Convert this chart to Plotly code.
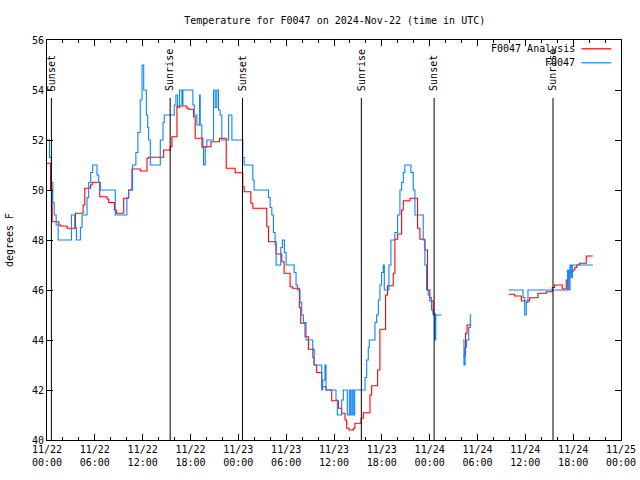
import pandas as pd
import plotly.graph_objects as go

BASE = pd.Timestamp("2024-11-22 00:00")

# Analysis (red) series: hours after 11/22 00:00 UTC and temperature (F); None = data gap
ana_hours = [0.0, 0.44, 0.65, 1.48, 1.69, 2.53, 3.57, 4.53, 4.74, 5.45, 5.66, 6.62, 7.53, 7.74,
             8.45, 8.7, 9.62, 10.25, 10.66, 11.71, 12.54, 12.75, 14.63, 15.46, 15.67, 16.3, 17.55,
             17.76, 18.38, 18.59, 19.55, 20.56, 21.64, 22.48, 23.6, 24.56, 24.73, 25.57, 25.82,
             27.57, 27.78, 28.74, 29.45, 29.74, 30.49, 30.78, 31.66, 31.83, 32.37, 32.79, 33.5,
             33.83, 34.46, 35.0, 35.71, 36.55, 36.96, 37.38, 37.59, 37.88, 38.43, 38.63, 39.39,
             39.68, 40.51, 40.72, 41.47, 41.76, 42.47, 42.72, 43.43, 43.64, 43.98, 44.48, 44.69,
             45.52, 46.48, 46.77, 47.4, 47.73, 48.02, 48.44, 48.65, 48.85, 50.8, 52.19, 52.5,
             52.69, 53.24, 55.5, 57.91, 58.66, 59.5, 60.54, 61.58, 62.63, 63.38, 63.67, 64.63,
             65.13, 65.47, 65.97, 66.2, 66.45, 66.8, 67.64, 68.47]
ana_temp = [51.07, 50.0, 48.73, 48.6, 48.56, 48.47, 49.07, 49.4, 50.07, 50.2, 50.31, 49.73, 49.64,
            49.5, 49.2, 49.07, 49.67, 50.0, 50.84, 50.76, 51.27, 51.31, 51.6, 51.73, 52.13, 53.36,
            53.27, 53.23, 52.93, 52.07, 51.73, 51.93, 52.07, 50.87, 50.69, 50.13, 49.93, 49.47,
            49.27, 48.53, 47.93, 47.44, 47.13, 46.67, 46.13, 46.07, 45.3, 44.67, 44.13, 43.63,
            43.0, 42.7, 42.13, 42.0, 41.57, 41.27, 41.07, 40.8, 40.47, 40.4, 40.47, 40.67, 40.87,
            41.09, 41.8, 42.17, 42.8, 44.43, 45.8, 46.17, 46.67, 48.03, 48.24, 49.2, 49.57, 49.67,
            48.47, 48.03, 47.6, 46.0, 45.56, 45.07, 45.0, 45.0, None, 43.4, 44.27, 44.6, 44.6,
            None, 45.83, 45.76, 45.56, 45.69, 45.87, 45.93, 46.1, 46.2, 46.04, 46.4, 46.73, 46.8,
            46.9, 47.0, 47.07, 47.36, 47.36]

# Observation (blue) series
obs_hours = [0.0, 0.31, 0.56, 0.73, 0.9, 1.15, 1.4, 3.06, 3.48, 3.69, 4.19, 4.4, 5.02, 5.23,
             5.48, 5.73, 6.27, 6.48, 6.69, 8.56, 10.02, 10.23, 10.73, 11.15, 11.4, 11.69, 11.92,
             12.13, 12.46, 12.63, 12.75, 12.96, 14.21, 14.55, 14.71, 15.96, 16.17, 16.38, 16.63,
             16.92, 17.05, 18.3, 18.47, 18.8, 19.14, 19.22, 19.42, 19.64, 19.85, 20.05, 20.89,
             21.1, 21.3, 21.51, 21.72, 21.93, 22.77, 23.19, 24.56, 24.73, 25.82, 25.98, 27.78,
             27.99, 28.2, 28.4, 28.61, 28.74, 29.32, 29.53, 29.78, 29.99, 31.0, 31.24, 31.41,
             31.74, 31.95, 32.16, 32.49, 33.33, 33.5, 34.46, 34.58, 34.87, 35.0, 36.25,
             36.42, 36.96, 37.17, 37.67, 37.92, 38.09, 38.26, 38.42, 38.59, 39.89, 40.1, 40.3,
             40.43, 41.14, 41.35, 41.56, 41.76, 41.97, 42.18, 42.31, 42.89, 43.14, 43.64, 43.98,
             44.27, 44.48, 44.69, 44.89, 45.65, 45.94, 46.15, 47.19, 47.4, 47.61, 47.82, 48.02,
             48.23, 48.44, 48.65, 48.77, 49.48, 50.8, 52.19, 52.3, 52.45, 52.6, 52.9, 53.1, 53.24,
             55.5, 57.91, 59.71, 59.92, 60.12, 60.33, 65.3, 65.45, 65.6, 65.75, 65.9, 68.47]
obs_temp = [52.0, 51.3, 50.3, 49.5, 49.0, 48.6, 48.0, 49.0, 48.5, 48.0, 48.5, 49.0, 49.7, 50.3,
            50.7, 51.0, 50.6, 50.3, 50.0, 49.0, 49.7, 50.0, 51.0, 51.5, 52.3, 53.6, 55.0,
            54.0, 53.0, 52.5, 52.0, 51.0, 52.0, 52.7, 53.0, 53.4, 53.8, 53.3, 54.0,
            53.4, 54.0, 53.4, 53.0, 52.6, 53.8, 52.6, 51.7, 51.0, 51.7, 52.0, 54.0,
            53.3, 54.0, 53.2, 53.0, 52.0, 53.0, 52.0, 51.3, 51.0, 50.4, 50.0, 49.7,
            49.3, 49.0, 48.3, 47.8, 47.0, 47.7, 48.0, 47.5, 47.0, 46.7, 46.2, 46.0,
            45.5, 45.0, 44.7, 44.0, 43.3, 43.0, 42.0, 42.4, 43.0, 42.0, 41.6,
            41.0, 41.6, 42.0, 41.0, 42.0, 41.0, 42.0, 41.0, 42.0, 42.5, 43.2, 43.7,
            44.0, 44.7, 45.0, 45.6, 46.2, 46.7, 47.0, 46.0, 47.0, 48.0, 48.3, 49.0,
            50.0, 50.3, 50.7, 51.0, 50.7, 50.0, 49.0, 48.0, 47.0, 46.0, 45.8, 45.7,
            45.2, 45.0, 44.0, 45.0, 45.0, None, 44.0, 43.0, 43.7, 44.0, 44.5, 45.0, 45.0,
            None, 46.0, 45.7, 45.0, 45.5, 46.0, 46.8, 46.0, 47.0, 46.5, 47.0, 47.0]

# Sun events
sun_hours = [0.55, 15.45, 24.52, 39.43, 48.56, 63.47]
sun_labels = ["Sunset", "Sunrise", "Sunset", "Sunrise", "Sunset", "Sunrise"]

series_names = ["F0047 Analysis", "F0047"]
series_colors = ["#ff0000", "#0a84ff"]

assert len(ana_hours) == len(ana_temp)
assert len(obs_hours) == len(obs_temp)


def to_time(hours):
    return [BASE + pd.Timedelta(hours=h) for h in hours]


FONT = "DejaVu Sans Mono"

fig = go.Figure()
fig.add_trace(go.Scatter(x=to_time(ana_hours), y=ana_temp, mode="lines", name=series_names[0],
                         line=dict(color=series_colors[0], width=1.1, shape="hv"),
                         connectgaps=False, showlegend=False))
fig.add_trace(go.Scatter(x=to_time(obs_hours), y=obs_temp, mode="lines", name=series_names[1],
                         line=dict(color=series_colors[1], width=1.1, shape="hv"),
                         connectgaps=False, showlegend=False))

shapes = []
annotations = []
for t, lab in zip(to_time(sun_hours), sun_labels):
    shapes.append(dict(type="line", xref="x", yref="paper", x0=t, x1=t, y0=0, y1=0.855,
                       line=dict(color="black", width=1)))
    annotations.append(dict(x=t, y=0.868, xref="x", yref="paper", text=lab, textangle=-90,
                            showarrow=False, xanchor="center", yanchor="bottom",
                            font=dict(family=FONT, size=10, color="black")))

# gnuplot-style legend: right-aligned text followed by a line sample
leg_y = [0.978, 0.943]
for name, col, yy in zip(series_names, series_colors, leg_y):
    annotations.append(dict(x=0.924, y=yy, xref="paper", yref="paper", text=name,
                            showarrow=False, xanchor="right", yanchor="middle",
                            font=dict(family=FONT, size=10, color="black")))
    shapes.append(dict(type="line", xref="paper", yref="paper", x0=0.931, x1=0.983,
                       y0=yy, y1=yy, line=dict(color=col, width=1.2)))

fig.update_layout(
    width=640, height=480,
    margin=dict(l=47, r=19, t=40, b=40),
    paper_bgcolor="white", plot_bgcolor="white",
    font=dict(family=FONT, size=10, color="black"),
    title=dict(text="Temperature for F0047 on 2024-Nov-22 (time in UTC)", x=0.523, xanchor="center",
               y=0.958, yanchor="middle", font=dict(family=FONT, size=10)),
    shapes=shapes, annotations=annotations,
)
fig.update_xaxes(
    range=[BASE, BASE + pd.Timedelta(hours=72)], automargin=False,
    type="date", tick0=BASE, dtick=6 * 3600 * 1000, tickformat="%m/%d<br>%H:%M",
    ticks="inside", ticklen=6, tickcolor="black", tickwidth=1,
    minor=dict(ticks="inside", ticklen=3, dtick=2 * 3600 * 1000, tick0=BASE, tickcolor="black"),
    showline=True, linecolor="black", linewidth=1, mirror="ticks",
    showgrid=False, zeroline=False, tickfont=dict(family=FONT, size=10),
)
fig.update_yaxes(
    range=[40, 56], dtick=2, tick0=40, automargin=False,
    ticks="inside", ticklen=6, tickcolor="black", tickwidth=1,
    showline=True, linecolor="black", linewidth=1, mirror="ticks",
    showgrid=False, zeroline=False, tickfont=dict(family=FONT, size=10),
    title=dict(text="degrees F", font=dict(family=FONT, size=10), standoff=16),
)

fig.write_html("out.html", config={"displayModeBar": False},
               post_script="document.body.style.margin='0px';")
